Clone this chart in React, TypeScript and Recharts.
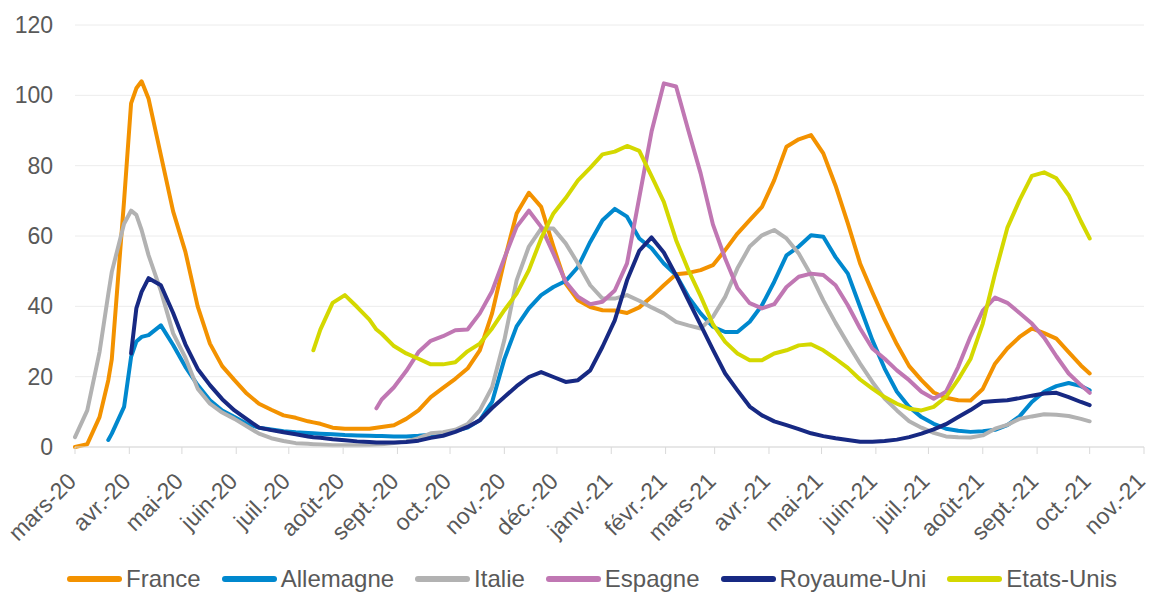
import { CartesianGrid, Legend, Line, LineChart, XAxis, YAxis } from "recharts";

// days counted from 1 March 2020 (weekly samples, plus a few extra days where a curve starts or peaks)
const DAYS = [
  0, 7, 14, 19, 21, 28, 32, 35, 38, 42, 49, 56, 63, 70, 77, 84, 91, 98, 105, 112,
  119, 126, 133, 136, 140, 147, 154, 161, 168, 172,
  175, 182, 189, 196, 203, 210, 217, 224, 231, 238,
  245, 252, 259, 266, 273, 280, 287, 294, 301, 308,
  315, 322, 329, 336, 343, 350, 357, 364, 371, 378,
  385, 392, 399, 406, 413, 420, 427, 434, 441, 448,
  455, 462, 469, 476, 483, 490, 497, 504, 511, 518,
  525, 532, 539, 546, 553, 560, 567, 574,
  579,
];

const MONTH_DAYS = [
  0, 31, 61, 92, 122, 153, 184, 214, 245, 275, 306, 337, 365, 396, 426, 457, 487, 518, 549, 579, 610,
];
const MONTH_LABELS = [
  "mars-20", "avr.-20", "mai-20", "juin-20", "juil.-20", "août-20", "sept.-20", "oct.-20",
  "nov.-20", "déc.-20", "janv.-21", "févr.-21", "mars-21", "avr.-21", "mai-21", "juin-21",
  "juil.-21", "août-21", "sept.-21", "oct.-21", "nov.-21",
];
const Y_TICKS = [0, 20, 40, 60, 80, 100, 120];

const FRANCE = [
  0, 0.8, 8.5, 19, 25, 70, 97.7, 102, 104, 99, 83, 67, 55.5, 40, 29.4, 23, 19, 15.2, 12.3, 10.6,
  9, 8.3, 7.3, 7, 6.6, 5.5, 5.2, 5.2, 5.2, 5.5,
  5.7, 6.2, 8, 10.4, 14.2, 16.8, 19.4, 22.3, 27.5, 38,
  53, 66.4, 72.3, 68.3, 57, 46.5, 41.7, 39.8, 38.9, 38.8,
  38.1, 39.7, 42.7, 46, 49.1, 49.5, 50.3, 51.7, 56, 60.7,
  64.5, 68.3, 75.9, 85.4, 87.5, 88.7, 83.5, 74.3, 63.6, 52.2,
  44, 36.2, 29.2, 23, 19, 15.5, 14, 13.3, 13.2, 16.5,
  23.7, 28, 31.3, 33.7, 32.4, 30.8, 27, 23.2,
  20.9,
];

const ALLEMAGNE = [
  null, null, null, 2, 3.8, 11.4, 25.6, 30, 31.3, 31.8, 34.6, 29, 22.8, 17.6, 13.3, 10.4, 8.5, 6.6, 5.5, 5,
  4.5, 4.2, 4, 3.9, 3.8, 3.6, 3.4, 3.3, 3.2, 3.1,
  3.1, 3, 3, 3.2, 3.5, 3.8, 4.6, 5.5, 7.6, 12.8,
  25, 34.3, 39.4, 43.2, 45.5, 47.2, 51.2, 58.3, 64.5, 67.7,
  65.5, 59.3, 56.5, 52.2, 48.9, 42.7, 38, 34.2, 32.7, 32.7,
  35.6, 40.3, 47, 54.5, 57, 60.2, 59.8, 54, 49.3, 39.8,
  30.4, 22.3, 15.7, 11.4, 8.5, 6.6, 5.2, 4.6, 4.3, 4.5,
  4.9, 6.2, 8.7, 12.8, 15.7, 17.3, 18.2, 17.3,
  16.1,
];

const ITALIE = [
  2.8, 10.4, 27, 43.5, 49.8, 63.5, 67.2, 66, 61.7, 54.5, 44.4, 32.3, 25.4, 16.6, 12.3, 9.8, 8, 5.9, 3.8, 2.5,
  1.7, 1.1, 0.9, 0.8, 0.7, 0.5, 0.5, 0.5, 0.6, 0.7,
  0.8, 1.1, 1.6, 2.5, 3.9, 4.2, 4.9, 6.5, 10.4, 17,
  30.4, 47.4, 57, 62.1, 62.1, 57.9, 52.2, 46, 42.2, 42.2,
  43.2, 41.6, 39.7, 38, 35.6, 34.6, 33.7, 37, 42.7, 50.8,
  57, 60.2, 61.7, 59.3, 55, 48.9, 41.7, 35.3, 29.4, 23.7,
  18.5, 13.8, 10.4, 7.3, 5.5, 4, 3, 2.8, 2.7, 3.3,
  5.2, 6.3, 8, 8.7, 9.3, 9.2, 8.8, 8,
  7.3,
];

const ESPAGNE = [
  null, null, null, null, null, null, null, null, null, null, null, null, null, null, null, null, null, null, null, null,
  null, null, null, null, null, null, null, null, null, 11,
  13.5, 17, 21.6, 27, 30.2, 31.5, 33.2, 33.4, 38, 44.3,
  53.7, 62.6, 67.2, 62.6, 55, 47, 42.7, 40.6, 41.3, 44.5,
  52.2, 71, 89.7, 103.4, 102.5, 90, 77.8, 63.3, 53.6, 45.2,
  40.9, 39.4, 40.6, 45.5, 48.4, 49.3, 48.9, 46, 40.3, 33.7,
  28, 25.1, 21.8, 19, 15.7, 13.7, 15.7, 22.8, 31.4, 38.8,
  42.5, 41, 38.1, 35.1, 31.1, 25.8, 20.9, 17.6,
  15.4,
];

const ROYAUME_UNI = [
  null, null, null, null, null, null, 26.6, 39.4, 44.1, 48, 46, 38.1, 29.2, 22.2, 17.6, 13.6, 10.4, 7.9, 5.5, 4.8,
  4.2, 3.6, 3, 2.8, 2.6, 2.2, 1.9, 1.6, 1.4, 1.3,
  1.3, 1.3, 1.4, 1.8, 2.6, 3.2, 4.3, 5.7, 7.6, 11.1,
  14.2, 17.3, 19.9, 21.3, 19.9, 18.5, 19, 21.8, 28.5, 36,
  47.4, 55.8, 59.6, 55.3, 48.8, 41.7, 34.7, 27.7, 20.9, 16.1,
  11.5, 9, 7.3, 6.2, 5.1, 3.9, 3.1, 2.5, 2, 1.5,
  1.5, 1.7, 2.1, 2.8, 3.8, 5, 6.5, 8.5, 10.5, 12.8,
  13.1, 13.3, 13.9, 14.6, 15.2, 15.4, 14.2, 12.8,
  11.9,
];

const ETATS_UNIS = [
  null, null, null, null, null, null, null, null, null, null, null, null, null, null, null, null, null, null, null, null,
  null, null, null, 27.5, 33.4, 41, 43.2, 39.8, 36.2, 33.4,
  32.2, 28.7, 26.6, 25.1, 23.5, 23.5, 24.1, 27.2, 29.4, 33.7,
  38.9, 43.6, 50.3, 59.3, 66.4, 70.8, 75.8, 79.4, 83.2, 84,
  85.6, 84.2, 77, 69.7, 58.8, 50.3, 42.9, 34.9, 29.9, 26.6,
  24.7, 24.7, 26.6, 27.5, 28.9, 29.2, 27.5, 25.1, 22.5, 19.2,
  16.6, 14.2, 12.3, 10.9, 10.4, 11.4, 14.2, 19.2, 25, 35.1,
  49.3, 62.3, 70.2, 77.1, 78.1, 76.4, 71.6, 64.2,
  59.3,
];

const SERIES = [
  { key: "fr", label: "France", color: "#F39200", values: FRANCE },
  { key: "de", label: "Allemagne", color: "#0088CE", values: ALLEMAGNE },
  { key: "it", label: "Italie", color: "#B2B2B2", values: ITALIE },
  { key: "es", label: "Espagne", color: "#C077B3", values: ESPAGNE },
  { key: "uk", label: "Royaume-Uni", color: "#172983", values: ROYAUME_UNI },
  { key: "us", label: "Etats-Unis", color: "#D4D800", values: ETATS_UNIS },
];

const FONT = '"Liberation Sans", Arial, sans-serif';
const TEXT = "#595959";

const data = DAYS.map((day, i) => {
  const row: Record<string, number | null> = { day };
  SERIES.forEach((s) => {
    row[s.key] = s.values[i];
  });
  return row;
});

function MonthTick(props: any) {
  const { x, y, payload } = props;
  const label = MONTH_LABELS[MONTH_DAYS.indexOf(payload.value)];
  const tx = x - 3;
  const ty = y + 21;
  return (
    <text
      x={tx}
      y={ty}
      transform={`rotate(-45 ${tx} ${ty})`}
      textAnchor="end"
      dominantBaseline="central"
      fill={TEXT}
      fontSize={23}
      fontFamily={FONT}
    >
      {label}
    </text>
  );
}

function LegendRow() {
  return (
    <div
      style={{
        display: "flex",
        justifyContent: "center",
        alignItems: "center",
        gap: 21,
        paddingTop: 6,
        paddingLeft: 40,
        height: 26,
        fontSize: 24,
        color: TEXT,
        fontFamily: FONT,
      }}
    >
      {SERIES.map((s) => (
        <div key={s.key} style={{ display: "flex", alignItems: "center" }}>
          <span
            style={{
              display: "inline-block",
              width: 55,
              height: 6,
              borderRadius: 3,
              background: s.color,
              marginRight: 4,
            }}
          />
          <span>{s.label}</span>
        </div>
      ))}
    </div>
  );
}

export default function App() {
  return (
    <div style={{ width: 1149, height: 592 }}>
      <style>{"body{margin:0;}"}</style>
      <LineChart
        width={1149}
        height={592}
        data={data}
        margin={{ top: 25, right: 5, bottom: 0, left: 0 }}
        style={{ fontFamily: FONT, overflow: "visible" }}
      >
        <CartesianGrid vertical={false} stroke="#ECECEC" />
        <XAxis
          dataKey="day"
          type="number"
          domain={[0, 610]}
          ticks={MONTH_DAYS}
          interval={0}
          height={113}
          stroke="#D9D9D9"
          tickSize={7}
          tick={<MonthTick />}
        />
        <YAxis
          domain={[0, 120]}
          ticks={Y_TICKS}
          width={75}
          axisLine={false}
          tickLine={false}
          tickMargin={16}
          tick={{ fill: TEXT, fontSize: 23, fontFamily: FONT }}
        />
        <Legend verticalAlign="bottom" content={<LegendRow />} />
        {SERIES.map((s) => (
          <Line
            key={s.key}
            dataKey={s.key}
            name={s.label}
            type="linear"
            stroke={s.color}
            strokeWidth={4}
            strokeLinejoin="round"
            strokeLinecap="round"
            dot={false}
            activeDot={false}
            connectNulls
            isAnimationActive={false}
          />
        ))}
      </LineChart>
    </div>
  );
}
